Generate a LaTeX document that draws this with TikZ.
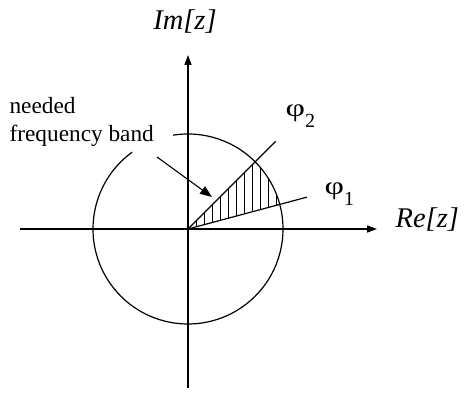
\documentclass[tikz,border=0pt]{standalone}
\usepackage{fontspec}
\setmainfont{Liberation Serif}
\usetikzlibrary{arrows.meta}
\newcommand{\phisub}[1]{\scalebox{1.35}[1]{\fontsize{25}{25}\selectfont φ}\raisebox{-11pt}{\fontsize{20}{20}\selectfont #1}}
\begin{document}
\begin{tikzpicture}[x=1pt,y=1pt,line width=1.2pt,
  axisline/.style={line width=1.3pt,-{Triangle[length=10pt,width=7pt]}},
  pointer/.style={line width=1.1pt,-{Triangle[length=12pt,width=9pt]}},
  lbl/.style={inner sep=0pt,font=\fontsize{23.3}{28}\selectfont},
  axlbl/.style={inner sep=0pt,font=\fontsize{28.5}{30}\selectfont\itshape},
  hatch/.style={line width=1pt}]
\useasboundingbox (0,0) rectangle (464,397);
\coordinate (O) at (188,168);
\coordinate (xs) at (20,168);
\coordinate (xe) at (377,168);
\coordinate (ys) at (188,9);
\coordinate (ye) at (188,342);
\draw[axisline] (xs) -- (xe);
\draw[axisline] (ys) -- (ye);
\draw (O) ++(126:95) arc[start angle=126,end angle=459,radius=95];
\path (O) ++(45:124) coordinate (p2);
\path (O) ++(15:123) coordinate (p1);
\draw (O) -- (p2);
\draw (O) -- (p1);
\begin{scope}
  \clip (O) -- ++(15:95) arc (15:45:95) -- cycle;
  \foreach \x in {196,204,...,276} \draw[hatch] (\x,160) -- (\x,280);
\end{scope}
\node[axlbl,anchor=base] (im) at (185,367) {Im[z]};
\node[axlbl,anchor=base west] (re) at (395,169) {Re[z]};
\node[anchor=base west,inner sep=0pt] (f2) at (285,280) {\phisub{2}};
\node[anchor=base west,inner sep=0pt] (f1) at (324,202) {\phisub{1}};
\node[lbl,anchor=north west,align=left] (band) at (9,300) {needed\\frequency band};
\coordinate (as) at (157,240);
\coordinate (ae) at (212,200);
\draw[pointer] (as) -- (ae);
\end{tikzpicture}
\end{document}
